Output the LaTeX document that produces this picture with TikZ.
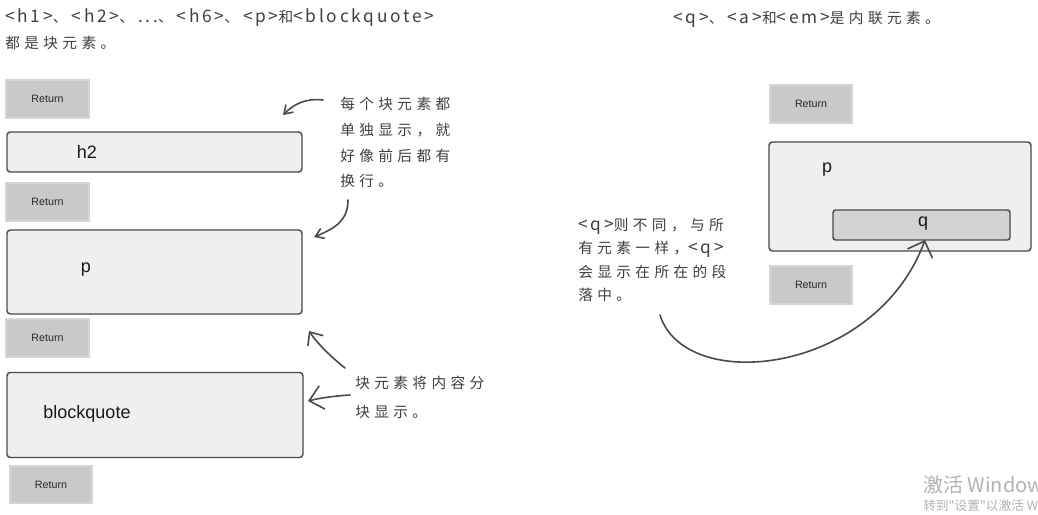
\documentclass[tikz,border=0pt]{standalone}
\usepackage{fontspec}
\usetikzlibrary{arrows.meta}
\newfontfamily\hand[LetterSpace=30]{Noto Sans CJK SC}
\newfontfamily\handl[LetterSpace=16]{Noto Sans CJK SC}
\newfontfamily\wmfont{Noto Sans CJK SC}
\newfontfamily\arialf{Liberation Sans}
\newcommand\latn[1]{{\handl\fontsize{13}{14}\selectfont #1}}
\newcommand\dun{、\hspace{3pt}}
\definecolor{ink}{HTML}{4A4A4A}
\definecolor{handink}{HTML}{404040}
\definecolor{boxfill}{HTML}{EFEFEF}
\definecolor{retfill}{HTML}{C9C9C9}
\definecolor{retedge}{HTML}{D5D5D5}
\definecolor{qfill}{HTML}{D3D3D3}
\definecolor{wm}{HTML}{B2B2B2}
\tikzset{
  retbox/.style={fill=retfill, draw=retedge, line width=1.5pt, minimum width=62pt, minimum height=28pt,
    inner sep=0pt, font=\arialf\fontsize{8}{9}\selectfont, text=black!85},
  blockbox/.style={draw=ink, fill=boxfill, line width=1.1pt, rounded corners=2.5pt, inner sep=0pt},
  qbox/.style={draw=ink, fill=qfill, line width=1.1pt, rounded corners=2pt, inner sep=0pt},
  lbl/.style={font=\arialf\fontsize{13.5}{15}\selectfont, text=black!90, inner sep=0pt},
  handtxt/.style={font=\hand\fontsize{11}{19.3}\selectfont, text=handink, align=left, inner sep=0pt},
  headtxt/.style={font=\hand\fontsize{11}{14}\selectfont, text=handink, inner sep=0pt},
  arr/.style={draw=ink, line width=1.2pt, line cap=round},
  wmtxt/.style={font=\wmfont, text=wm, inner sep=0pt, anchor=west}
}
\begin{document}
\begin{tikzpicture}[x=0.75pt, y=-0.75pt]
\useasboundingbox[fill=white] (0,0) rectangle (1038,514);

% headings
\node[headtxt, anchor=west] (hd1) at (5,18)
  {\latn{<h1>}\dun\latn{<h2>}\dun\latn{...}\dun\latn{<h6>}\dun\latn{<p>}和\latn{<blockquote>}};
\node[headtxt, anchor=west] (hd1b) at (5,43) {都是块元素。};
\node[headtxt, anchor=west] (hd2) at (673,19) {\latn{<q>}\dun\latn{<a>}和\latn{<em>}是内联元素。};

% left column
\node[retbox] (r1) at (47.5,99) {Return};
\node[blockbox, minimum width=221.25pt, minimum height=30pt] (h2box) at (154.5,152) {};
\node[lbl] (h2lbl) at (87,152) {h2};
\node[retbox] (r2) at (47.5,202) {Return};
\node[blockbox, minimum width=221.25pt, minimum height=63pt] (pbox) at (154.5,272) {};
\node[lbl] (plbl) at (86,270) {p};
\node[retbox] (r3) at (47.5,338) {Return};
\node[blockbox, minimum width=222pt, minimum height=63.75pt] (bqbox) at (155,415) {};
\node[lbl] (bqlbl) at (87,414) {blockquote};
\node[retbox] (r4) at (51,484.5) {Return};

% left notes
\node[handtxt, anchor=north west] (note1) at (340,97)
  {每个块元素都\\单独显示，就\\好像前后都有\\换行。};
\node[handtxt, anchor=north west, font=\hand\fontsize{11}{21.5}\selectfont] (note2) at (355,376)
  {块元素将内容分\\块显示。};

\coordinate (a1s) at (323,100);
\coordinate (a1e) at (283,115);
\coordinate (a2s) at (348,200);
\coordinate (a2e) at (314,237);
\coordinate (a3s) at (345,368);
\coordinate (a3e) at (309,331);
\coordinate (a4s) at (350,395);
\coordinate (a4e) at (308,401);
\draw[arr, -{Straight Barb[length=6pt, width=8pt]}] (a1s) .. controls (306,98) and (294,104) .. (a1e);
\draw[arr, -{Straight Barb[length=6pt, width=8pt]}] (a2s) .. controls (348,220) and (336,228) .. (a2e);
\draw[arr, -{Straight Barb[length=8pt, width=14pt]}] (a3s) .. controls (331,357) and (317,343) .. (a3e);
\draw[arr, -{Straight Barb[length=10pt, width=18pt]}] (a4s) .. controls (334,396) and (320,398) .. (a4e);

% right column
\node[retbox] (r5) at (811,104) {Return};
\node[blockbox, minimum width=196.5pt, minimum height=81.75pt] (pbox2) at (900,196.5) {};
\node[lbl] (p2lbl) at (827,170) {p};
\node[qbox, minimum width=132.75pt, minimum height=22.5pt] (qb) at (921.5,225) {};
\node[lbl] (qlbl) at (923,224) {q};
\node[retbox] (r6) at (811,285) {Return};

\node[handtxt, anchor=north west, font=\hand\fontsize{11}{17.6}\selectfont] (note3) at (578,218)
  {\latn{<q>}则不同，与所\\有元素一样，\latn{<q>}\\会显示在所在的段\\落中。};

\coordinate (a5s) at (660,315);
\coordinate (a5e) at (925,240);
\draw[arr, -{Straight Barb[length=10pt, width=20pt]}] (a5s) .. controls (685,395) and (875,375) .. (a5e);

% watermark
\node[wmtxt, font=\wmfont\fontsize{15}{16}\selectfont] (wm1) at (923,485) {激活 Windows};
\node[wmtxt, font=\wmfont\fontsize{9.5}{11}\selectfont] (wm2) at (923,506) {转到"设置"以激活 Windows。};
\end{tikzpicture}
\end{document}
